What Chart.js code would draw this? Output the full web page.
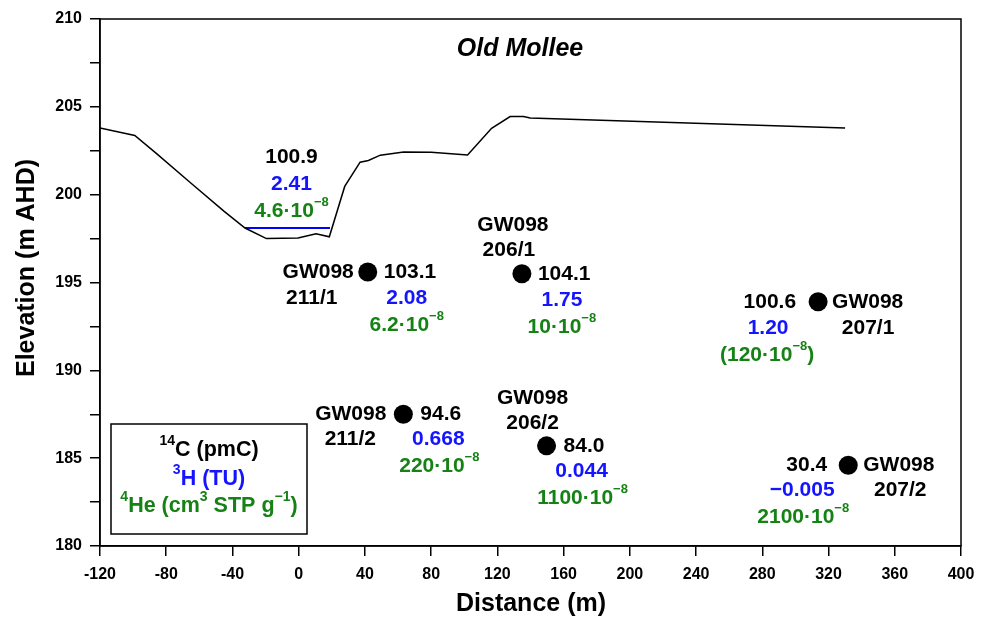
<!DOCTYPE html>
<html>
<head>
<meta charset="utf-8">
<title>Old Mollee</title>
<script src="https://cdn.jsdelivr.net/npm/chart.js@4.4.1/dist/chart.umd.min.js"></script>
<style>
  body { margin: 0; background: #fff; }
  #wrap { width: 985px; height: 618px; }
</style>
</head>
<body>
<div id="wrap"><canvas id="grafico" width="985" height="618"></canvas></div>
<script>
// Perfil del terreno (distancia m, elevación m AHD)
const terrenoX = [-120, -99, -86, -65, -45, -32.4, -19.5, -0.4, 10.5, 18.5, 27.8, 37.1, 42.1, 49.3, 63.4, 80, 102, 116.5, 127.7, 135.8, 139.8, 330];
const terrenoY = [203.8, 203.37, 202.35, 200.65, 199.05, 198.1, 197.5, 197.53, 197.78, 197.6, 200.47, 201.85, 201.95, 202.25, 202.43, 202.42, 202.26, 203.78, 204.45, 204.45, 204.36, 203.8];

// Nivel del agua superficial (muestra del río)
const aguaX = [-32.4, 18.9];
const aguaY = [198.1, 198.1];
const aguaC14 = '100.9';
const aguaH3 = '2.41';
const aguaHe4 = '4.6';

// Pozos
const pozos = ['211/1', '206/1', '211/2', '206/2', '207/1', '207/2'];
const pozoX = [41.7, 134.8, 63.2, 149.7, 313.7, 331.9];
const pozoY = [195.6, 195.5, 187.5, 185.7, 193.9, 184.6];
const c14 = ['103.1', '104.1', '94.6', '84.0', '100.6', '30.4'];
const h3 = ['2.08', '1.75', '0.668', '0.044', '1.20', '\u22120.005'];
const he4 = ['6.2', '10', '220', '1100', '120', '2100'];
const he4Dudoso = [false, false, false, false, true, false];

// Ticks
const ticksX = { min: -120, max: 400, paso: 40 };
const ticksY = { min: 180, max: 210, paso: 5 };

const FUENTE = '"Liberation Sans", Arial, sans-serif';
const NEGRO = '#000';
const AZUL = '#1414ff';
const VERDE = '#168216';

// Posición de cada texto respecto al pozo (px): [dx, dy, alineación]
const etiquetas = [
  { nom: [-14, 0, 'right'], id: [-56, 26, 'center'], c: [16, 0, 'left'], h: [39, 26, 'center'], he: [39, 53, 'center'] },
  { nom: [-9, -49, 'center'], id: [-13, -24, 'center'], c: [16, 0, 'left'], h: [40, 26, 'center'], he: [40, 53, 'center'] },
  { nom: [-17, 0, 'right'], id: [-53, 25, 'center'], c: [17, 0, 'left'], h: [35, 25, 'center'], he: [36, 52, 'center'] },
  { nom: [-14, -48, 'center'], id: [-14, -23, 'center'], c: [17, 0, 'left'], h: [35, 25, 'center'], he: [36, 52, 'center'] },
  { nom: [14, 0, 'left'], id: [50, 26, 'center'], c: [-22, 0, 'right'], h: [-50, 26, 'center'], he: [-51, 53, 'center'] },
  { nom: [15, 0, 'left'], id: [52, 25, 'center'], c: [-21, 0, 'right'], h: [-46, 25, 'center'], he: [-45, 52, 'center'] }
];

// Separa texto con superíndices marcados como ^{...}
function partes(str) {
  const out = [];
  const re = /\^\{([^}]*)\}/g;
  let last = 0, m;
  while ((m = re.exec(str))) {
    if (m.index > last) out.push({ t: str.slice(last, m.index), sup: false });
    out.push({ t: m[1], sup: true });
    last = re.lastIndex;
  }
  if (last < str.length) out.push({ t: str.slice(last), sup: false });
  return out;
}

function textoRico(ctx, str, x, y, align, size, color) {
  const p = partes(str);
  const fCuerpo = 'bold ' + size + 'px ' + FUENTE;
  const fSup = 'bold ' + Math.round(size * 0.64) + 'px ' + FUENTE;
  let w = 0;
  p.forEach(s => { ctx.font = s.sup ? fSup : fCuerpo; s.w = ctx.measureText(s.t).width; w += s.w; });
  let x0 = align === 'center' ? x - w / 2 : align === 'right' ? x - w : x;
  ctx.fillStyle = color;
  ctx.textAlign = 'left';
  ctx.textBaseline = 'middle';
  p.forEach(s => {
    ctx.font = s.sup ? fSup : fCuerpo;
    ctx.fillText(s.t, x0, s.sup ? y - size * 0.4 : y);
    x0 += s.w;
  });
}

function textoHe(v, dudoso) {
  const t = v + '\u00b710^{\u22128}';
  return dudoso ? '(' + t + ')' : t;
}

// Plugin para el marco, títulos, leyenda y anotaciones
const anotaciones = {
  id: 'anotaciones',
  afterDatasetsDraw(chart) {
    const ctx = chart.ctx;
    const a = chart.chartArea;
    const sx = chart.scales.x, sy = chart.scales.y;
    ctx.save();

    // marco completo
    ctx.strokeStyle = NEGRO;
    ctx.lineWidth = 1.5;
    ctx.strokeRect(a.left, a.top, a.right - a.left, a.bottom - a.top);

    // título
    ctx.fillStyle = NEGRO;
    ctx.font = 'italic bold 25px ' + FUENTE;
    ctx.textAlign = 'center';
    ctx.textBaseline = 'middle';
    ctx.fillText('Old Mollee', 520, 49);

    // títulos de ejes
    ctx.font = 'bold 25px ' + FUENTE;
    ctx.fillText('Distance (m)', 531, 604);
    ctx.save();
    ctx.translate(27, 268);
    ctx.rotate(-Math.PI / 2);
    ctx.fillText('Elevation (m AHD)', 0, 0);
    ctx.restore();

    // muestra de agua superficial
    const ax = (sx.getPixelForValue(aguaX[0]) + sx.getPixelForValue(aguaX[1])) / 2 + 4;
    const ay = sy.getPixelForValue(aguaY[0]);
    textoRico(ctx, aguaC14, ax, ay - 71, 'center', 21, NEGRO);
    textoRico(ctx, aguaH3, ax, ay - 44, 'center', 21, AZUL);
    textoRico(ctx, textoHe(aguaHe4, false), ax, ay - 17, 'center', 21, VERDE);

    // etiquetas de los pozos
    pozos.forEach((p, i) => {
      const px = sx.getPixelForValue(pozoX[i]);
      const py = sy.getPixelForValue(pozoY[i]);
      const e = etiquetas[i];
      textoRico(ctx, 'GW098', px + e.nom[0], py + e.nom[1], e.nom[2], 21, NEGRO);
      textoRico(ctx, p, px + e.id[0], py + e.id[1], e.id[2], 21, NEGRO);
      textoRico(ctx, c14[i], px + e.c[0], py + e.c[1], e.c[2], 21, NEGRO);
      textoRico(ctx, h3[i], px + e.h[0], py + e.h[1], e.h[2], 21, AZUL);
      textoRico(ctx, textoHe(he4[i], he4Dudoso[i]), px + e.he[0], py + e.he[1], e.he[2], 21, VERDE);
    });

    // leyenda
    const lx = a.left + 11, ly = a.bottom - 122;
    ctx.strokeStyle = NEGRO;
    ctx.lineWidth = 1.5;
    ctx.strokeRect(lx, ly, 196, 110);
    const cx = lx + 98;
    textoRico(ctx, '^{14}C (pmC)', cx, ly + 26, 'center', 21.5, NEGRO);
    textoRico(ctx, '^{3}H (TU)', cx, ly + 55, 'center', 21.5, AZUL);
    textoRico(ctx, '^{4}He (cm^{3} STP g^{\u22121})', cx, ly + 82, 'center', 21.5, VERDE);

    ctx.restore();
  }
};

const ejeComun = {
  type: 'linear',
  border: { display: true, color: NEGRO, width: 1.5 },
  grid: { drawOnChartArea: false, drawTicks: true, tickLength: 10, color: NEGRO, lineWidth: 1.5 },
  title: { display: false }
};

new Chart(document.getElementById('grafico'), {
  type: 'scatter',
  data: {
    datasets: [
      {
        label: 'Terreno',
        data: terrenoX.map((x, i) => ({ x: x, y: terrenoY[i] })),
        showLine: true,
        borderColor: NEGRO,
        borderWidth: 1.5,
        pointRadius: 0,
        tension: 0
      },
      {
        label: 'Agua',
        data: aguaX.map((x, i) => ({ x: x, y: aguaY[i] })),
        showLine: true,
        borderColor: '#0000ff',
        borderWidth: 2,
        pointRadius: 0
      },
      {
        label: 'Pozos',
        data: pozoX.map((x, i) => ({ x: x, y: pozoY[i] })),
        pointRadius: 9.5,
        pointBackgroundColor: NEGRO,
        pointBorderColor: NEGRO,
        borderWidth: 0
      }
    ]
  },
  options: {
    responsive: false,
    animation: false,
    layout: { padding: { top: 19, right: 24, left: 0, bottom: 0 } },
    plugins: { legend: { display: false }, tooltip: { enabled: false } },
    scales: {
      x: Object.assign({}, ejeComun, {
        min: ticksX.min, max: ticksX.max,
        ticks: {
          stepSize: ticksX.paso, color: NEGRO, padding: 9,
          font: { family: FUENTE, size: 16, weight: 'bold' },
          callback: v => String(v)
        },
        afterFit: s => { s.height = 72; }
      }),
      y: Object.assign({}, ejeComun, {
        min: ticksY.min, max: ticksY.max,
        ticks: {
          stepSize: ticksY.paso / 2, color: NEGRO, padding: 8,
          font: { family: FUENTE, size: 16, weight: 'bold' },
          callback: v => (v % ticksY.paso === 0 ? String(v) : '')
        },
        afterFit: s => { s.width = 100; }
      })
    }
  },
  plugins: [anotaciones]
});
</script>
</body>
</html>
